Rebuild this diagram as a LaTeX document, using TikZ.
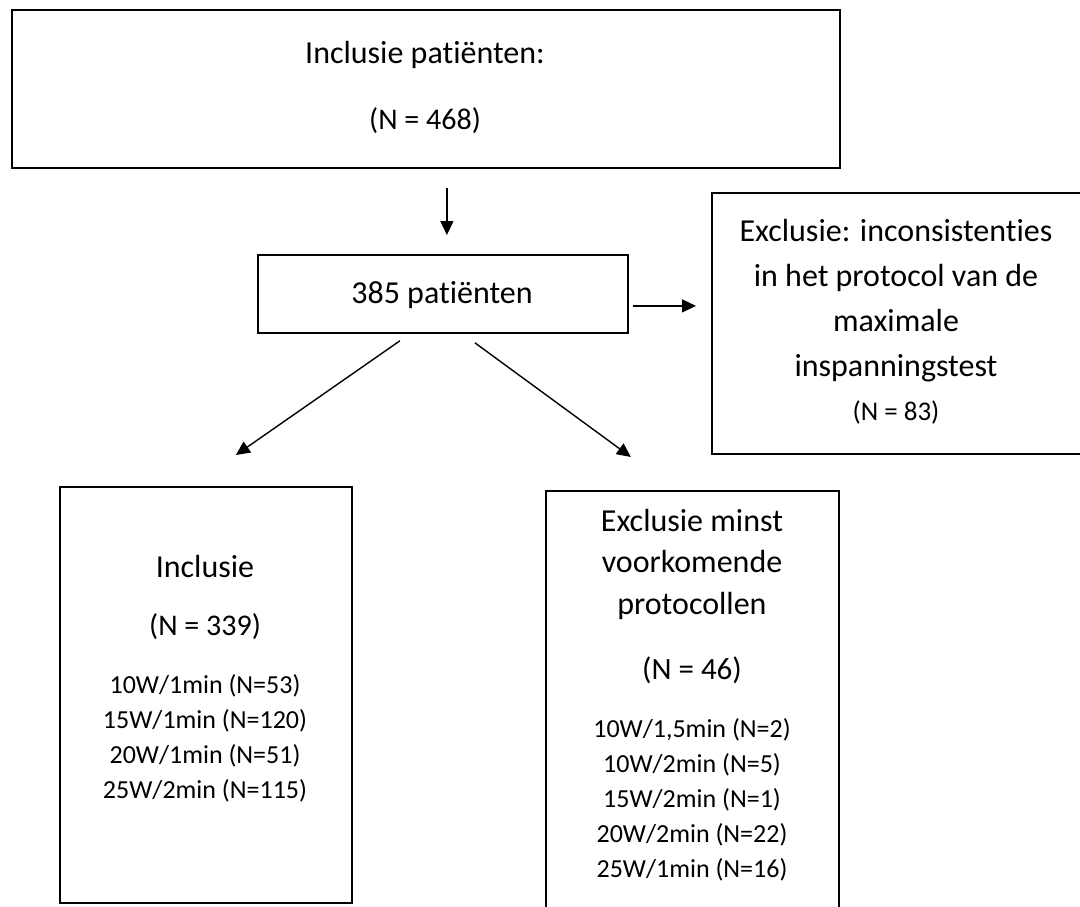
\documentclass[tikz,border=0pt]{standalone}
\usepackage{fontspec}
\setmainfont[Ligatures={NoCommon}]{Carlito}
\usetikzlibrary{arrows.meta,calc}
\begin{document}
\begin{tikzpicture}[x=1pt,y=-1pt,
  box/.style={draw=black,line width=1.8pt,inner sep=0pt,anchor=north west},
  txt/.style={align=center,inner sep=0pt},
  big/.style={font=\fontsize{32}{45}\selectfont},
  mid/.style={font=\fontsize{30}{45}\selectfont},
  lst/.style={font=\fontsize{26}{35}\selectfont},
  arr/.style={line width=1.4pt,-{Triangle[length=14pt,width=13pt]}}]
\clip (0,0) rectangle (1080,906);
\fill[white] (0,0) rectangle (1080,906);
% boxes
\node[box,minimum width=828pt,minimum height=158pt] (b1) at (11,9) {};
\node[box,minimum width=370pt,minimum height=78pt] (b2) at (257,254) {};
\node[box,minimum width=372pt,minimum height=261pt] (b3) at (711,192) {};
\node[box,minimum width=292pt,minimum height=416pt] (b4) at (59,486) {};
\node[box,minimum width=293pt,minimum height=440pt] (b5) at (545,490) {};
% texts
\node[txt,big] (t1a) at (425,55) {Inclusie patiënten:};
\node[txt,mid] (t1b) at (425,121) {(N = 468)};
\node[txt,big] (t2) at (442,295) {385 patiënten};
\node[txt,big] (t3a) at (896,301) {Exclusie: inconsistenties\\in het protocol van de\\maximale\\inspanningstest};
\node[txt,font=\fontsize{27}{35}\selectfont] (t3b) at (896,412) {(N = 83)};
\node[txt,big] (t4a) at (205,566) {Inclusie};
\node[txt,mid] (t4b) at (205,627) {(N = 339)};
\node[txt,lst] (t4c) at (205,738.5) {10W/1min (N=53)\\15W/1min (N=120)\\20W/1min (N=51)\\25W/2min (N=115)};
\node[txt,font=\fontsize{32}{41.5}\selectfont] (t5a) at (692,564) {Exclusie minst\\voorkomende\\protocollen};
\node[txt,font=\fontsize{31}{41.5}\selectfont] (t5b) at (692,670) {(N = 46)};
\node[txt,lst] (t5c) at (692,800) {10W/1,5min (N=2)\\10W/2min (N=5)\\15W/2min (N=1)\\20W/2min (N=22)\\25W/1min (N=16)};
% arrows
\draw[arr] ([shift={(21,19)}]b1.south) -- ([shift={(4,-19)}]b2.north);
\draw[arr] ([shift={(4,12)}]b2.east) -- ([shift={(-15,-17.5)}]b3.west);
\draw[arr] ([shift={(-43,7)}]b2.south) -- ([shift={(30,-31)}]b4.north);
\draw[arr] ([shift={(32,9)}]b2.south) -- ([shift={(-61.5,-33)}]b5.north);
\end{tikzpicture}
\end{document}
